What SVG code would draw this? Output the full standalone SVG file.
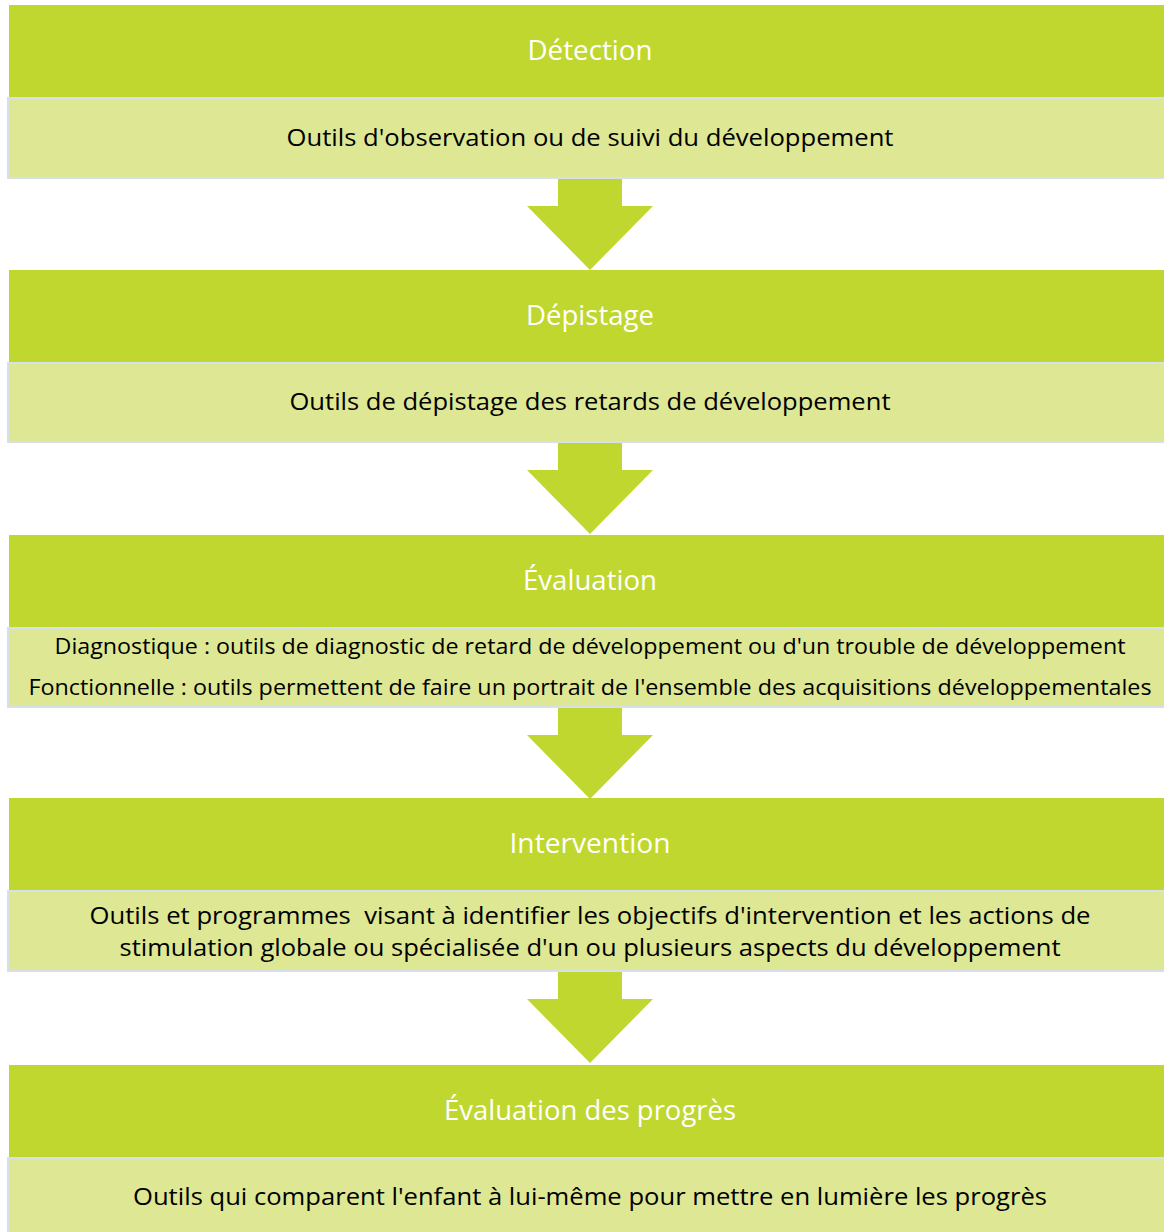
<svg xmlns="http://www.w3.org/2000/svg" width="1164" height="1232" viewBox="0 0 1164 1232">
<style>
.hd{fill:#c0d72f}
.bd{fill:#dde794;stroke:#d5e0ea;stroke-width:2}
.ar{fill:#c0d72f}
.ht{font-family:"Open Sans","Liberation Sans",sans-serif;font-size:28px;fill:#ffffff;text-anchor:middle}
.bt{font-family:"Open Sans","Liberation Sans",sans-serif;font-size:24px;fill:#000000;text-anchor:middle;white-space:pre}
.bs{font-family:"Open Sans","Liberation Sans",sans-serif;font-size:21px;fill:#000000;text-anchor:middle}
</style>
<rect width="1164" height="1232" fill="#ffffff"/>
<g id="connectors">
<polygon class="ar" points="558,179 622,179 622,206 653,206 590,270 527,206 558,206"/>
<polygon class="ar" points="558,443 622,443 622,470 653,470 590,534 527,470 558,470"/>
<polygon class="ar" points="558,708 622,708 622,735 653,735 590,799 527,735 558,735"/>
<polygon class="ar" points="558,972 622,972 622,999 653,999 590,1063 527,999 558,999"/>
</g>
<g id="detection">
<rect class="hd" x="9" y="5" width="1160" height="92"/>
<rect class="bd" x="8" y="98" width="1160" height="80"/>
<text class="ht" x="590" y="60" textLength="125" lengthAdjust="spacingAndGlyphs">Détection</text>
<text class="bt" x="590" y="146" textLength="607" lengthAdjust="spacingAndGlyphs">Outils d'observation ou de suivi du développement</text>
</g>
<g id="depistage">
<rect class="hd" x="9" y="270" width="1160" height="92"/>
<rect class="bd" x="8" y="363" width="1160" height="79"/>
<text class="ht" x="590" y="325" textLength="128" lengthAdjust="spacingAndGlyphs">Dépistage</text>
<text class="bt" x="590" y="410" textLength="601" lengthAdjust="spacingAndGlyphs">Outils de dépistage des retards de développement</text>
</g>
<g id="evaluation">
<rect class="hd" x="9" y="535" width="1160" height="92"/>
<rect class="bd" x="8" y="628" width="1160" height="79"/>
<text class="ht" x="590" y="590" textLength="134" lengthAdjust="spacingAndGlyphs">Évaluation</text>
<text class="bs" x="590" y="654" textLength="1071" lengthAdjust="spacingAndGlyphs">Diagnostique : outils de diagnostic de retard de développement ou d'un trouble de développement</text>
<text class="bs" x="590" y="695" textLength="1123" lengthAdjust="spacingAndGlyphs">Fonctionnelle : outils permettent de faire un portrait de l'ensemble des acquisitions développementales</text>
</g>
<g id="intervention">
<rect class="hd" x="9" y="798" width="1160" height="92"/>
<rect class="bd" x="8" y="891" width="1160" height="80"/>
<text class="ht" x="590" y="853" textLength="161" lengthAdjust="spacingAndGlyphs">Intervention</text>
<text class="bt" x="590" y="924" textLength="1001" lengthAdjust="spacingAndGlyphs">Outils et programmes  visant à identifier les objectifs d'intervention et les actions de</text>
<text class="bt" x="590" y="956" textLength="941" lengthAdjust="spacingAndGlyphs">stimulation globale ou spécialisée d'un ou plusieurs aspects du développement</text>
</g>
<g id="evaluation-progres">
<rect class="hd" x="9" y="1065" width="1160" height="92"/>
<rect class="bd" x="8" y="1158" width="1160" height="80"/>
<text class="ht" x="590" y="1120" textLength="292" lengthAdjust="spacingAndGlyphs">Évaluation des progrès</text>
<text class="bt" x="590" y="1205" textLength="914" lengthAdjust="spacingAndGlyphs">Outils qui comparent l'enfant à lui-même pour mettre en lumière les progrès</text>
</g>
</svg>
